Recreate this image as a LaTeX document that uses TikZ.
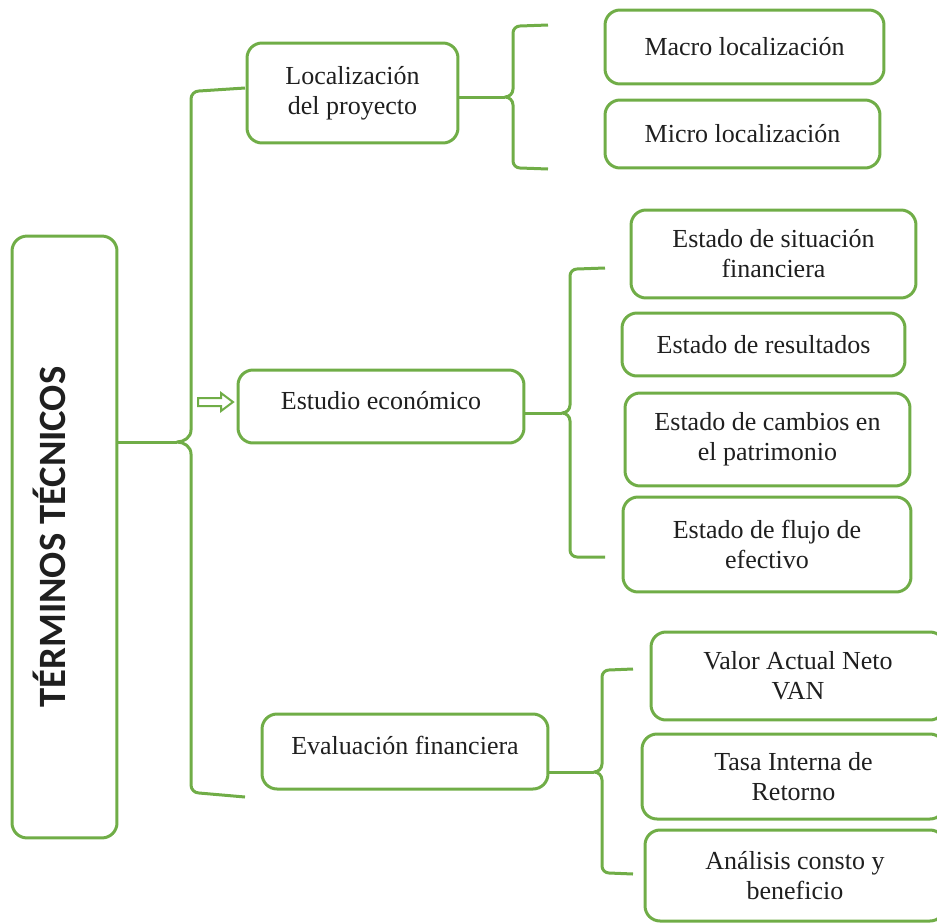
\documentclass[tikz,border=0pt]{standalone}
\usepackage{fontspec}
\setmainfont{Liberation Serif}
\newfontfamily\titulofont{Carlito}
\definecolor{verde}{HTML}{70AD47}

\begin{document}
\begin{tikzpicture}[x=.02cm,y=-.02cm,font=\fontsize{14.8}{17}\selectfont,
 caja/.style={draw=verde,line width=.06cm,rounded corners=.3cm,align=center,text=black!88,inner sep=0pt},
 llave/.style={verde,line width=.06cm,line join=round}]
\useasboundingbox (0,0) rectangle (937,923);
% cajas principales
\node[caja,rotate=90,minimum width=12.04cm,minimum height=2.1cm,text height=.5cm,text depth=.48cm,
 font=\titulofont\bfseries\fontsize{22}{26}\selectfont] (titulo) at (64.5,537) {TÉRMINOS TÉCNICOS};
\node[caja,minimum width=4.22cm,minimum height=2cm] (loc) at (352.5,93) {Localización\\del proyecto};
\node[caja,minimum width=5.72cm,minimum height=1.46cm,text depth=.25cm] (eco) at (381,406.5) {Estudio económico};
\node[caja,minimum width=5.72cm,minimum height=1.5cm,text depth=.25cm] (eva) at (405,751.5) {Evaluación financiera};
% cajas de detalle
\foreach \nom/\cx/\cy/\an/\al/\txt in {
 macro/744.5/47/5.58/1.48/{Macro localización},
 micro/742.5/134/5.5/1.36/{Micro localización},
 esf/773.5/254/5.7/1.76/{Estado de situación\\financiera},
 res/763.5/344.5/5.66/1.26/{Estado de resultados},
 cam/767.5/439.5/5.7/1.86/{Estado de cambios en\\el patrimonio},
 flu/767/544.5/5.76/1.9/{Estado de flujo de\\efectivo},
 van/798/676/5.88/1.76/{Valor Actual Neto\\VAN},
 tir/793.5/776.5/6.06/1.7/{Tasa Interna de\\Retorno},
 ana/795/875.5/6.0/1.82/{Análisis consto y\\beneficio}}
 \node[caja,minimum width=\an cm,minimum height=\al cm] (\nom) at (\cx,\cy) {\txt};
% llaves
\coordinate (p1) at (177,442);
\draw[llave] (titulo.south |- p1) -- (p1);
\draw[llave] (245,88) -- (199,91) to[out=180,in=90] (191,99) -- (191,430) to[out=-90,in=0] (p1)
 to[out=0,in=90] (191,454) -- (191,785) to[out=-90,in=180] (199,793) -- (245,797);
\coordinate (p2) at (505,97);
\draw[llave] (loc.east |- p2) -- (p2);
\draw[llave] (548,25) -- (520,26) to[out=180,in=90] (513,33) -- (513,89) to[out=-90,in=0] (p2)
 to[out=0,in=90] (513,105) -- (513,161) to[out=-90,in=180] (520,168) -- (548,169);
\coordinate (p3) at (562,413);
\draw[llave] (eco.east |- p3) -- (p3);
\draw[llave] (605,268) -- (577,269) to[out=180,in=90] (570,276) -- (570,405) to[out=-90,in=0] (p3)
 to[out=0,in=90] (570,421) -- (570,550) to[out=-90,in=180] (577,557) -- (605,557);
\coordinate (p4) at (594,772);
\draw[llave] (eva.east |- p4) -- (p4);
\draw[llave] (633,669) -- (609,670) to[out=180,in=90] (602,677) -- (602,764) to[out=-90,in=0] (p4)
 to[out=0,in=90] (602,780) -- (602,866) to[out=-90,in=180] (609,873) -- (633,874);
% flecha hueca
\draw[verde,line width=.04cm,fill=white] (198,398) -- (221,398) -- (221,393) -- (233,402) -- (221,411) -- (221,406) -- (198,406) -- cycle;
\end{tikzpicture}
\end{document}
